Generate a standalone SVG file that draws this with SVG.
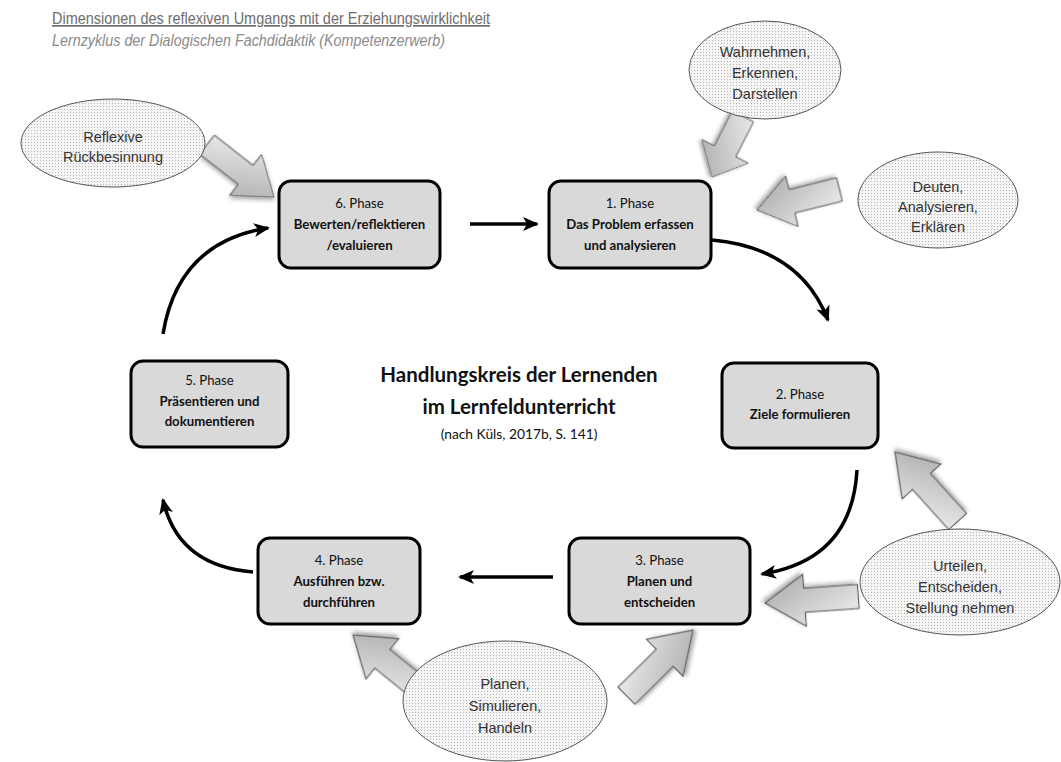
<svg xmlns="http://www.w3.org/2000/svg" width="1061" height="762" viewBox="0 0 1061 762">
<defs>
<pattern id="dots" width="3" height="3" patternUnits="userSpaceOnUse">
<rect width="3" height="3" fill="#f5f5f5"/>
<rect x="1" y="1" width="1" height="1" fill="#b4b4b4"/>
</pattern>
<linearGradient id="bg" x1="0" y1="0" x2="1" y2="1">
<stop offset="0" stop-color="#f2f2f2"/>
<stop offset="1" stop-color="#a6a6a6"/>
</linearGradient>
<filter id="sh" x="-30%" y="-30%" width="160%" height="160%">
<feDropShadow dx="2" dy="2" stdDeviation="2" flood-color="#000" flood-opacity="0.35"/>
</filter>
<marker id="ah" markerUnits="userSpaceOnUse" markerWidth="16" markerHeight="16" viewBox="0 0 16 16" refX="14" refY="8" orient="auto">
<path d="M0,1 L16,8 L0,15 L4,8 Z" fill="#000"/>
</marker>
<path id="barrow" d="M-85,-12 L-36,-12 L-36,-26 L0,0 L-36,26 L-36,12 L-85,12 Z"/>
</defs>
<style>
.box{fill:#d9d9d9;stroke:#000;stroke-width:3}
.bt{font-family:Lato,"Open Sans",sans-serif;font-size:13.2px;fill:#111;text-anchor:middle}
.b{font-weight:bold}
.ell{fill:url(#dots);stroke:#555;stroke-width:1}
.et{font-family:"Liberation Sans",Arial,sans-serif;font-size:14.5px;fill:#333;text-anchor:middle}
.conn{fill:none;stroke:#000;stroke-width:3.5}
.ba{fill:url(#bg);stroke:#555;stroke-width:1;filter:url(#sh)}
.ct{font-family:Lato,"Open Sans",sans-serif;text-anchor:middle;fill:#111}
</style>
<rect width="1061" height="762" fill="#fff"/>

<g id="title">
<text x="52" y="24" font-family="Liberation Sans, Arial, sans-serif" font-size="17" fill="#6e6e6e" text-decoration="underline" textLength="438" lengthAdjust="spacingAndGlyphs">Dimensionen des reflexiven Umgangs mit der Erziehungswirklichkeit</text>
<text x="52" y="46" font-family="Liberation Sans, Arial, sans-serif" font-size="16.5" font-style="italic" fill="#8a8a8a" textLength="393" lengthAdjust="spacingAndGlyphs">Lernzyklus der Dialogischen Fachdidaktik (Kompetenzerwerb)</text>
</g>

<g id="connectors">
<path class="conn" d="M470,224 L537,224" marker-end="url(#ah)"/>
<path class="conn" d="M712,240 Q800,248 828,320" marker-end="url(#ah)"/>
<path class="conn" d="M857,470 Q852,560 762,574" marker-end="url(#ah)"/>
<path class="conn" d="M553,577 L460,577" marker-end="url(#ah)"/>
<path class="conn" d="M253,572 Q178,566 163,500" marker-end="url(#ah)"/>
<path class="conn" d="M163,334 Q178,242 268,228" marker-end="url(#ah)"/>
</g>

<g id="blockarrows">
<use href="#barrow" class="ba" transform="translate(274,197) rotate(38)"/>
<use href="#barrow" class="ba" transform="translate(712,177) rotate(117) scale(0.8,1)"/>
<use href="#barrow" class="ba" transform="translate(757,210) rotate(166)"/>
<use href="#barrow" class="ba" transform="translate(895,452) rotate(-132) scale(1.1,1)"/>
<use href="#barrow" class="ba" transform="translate(765,603) rotate(176) scale(1.1,1)"/>
<use href="#barrow" class="ba" transform="translate(693,630) rotate(-44.6) scale(1.1,1)"/>
<use href="#barrow" class="ba" transform="translate(353,635) rotate(-141) scale(1.05,1)"/>
</g>

<g id="e-reflexive">
<ellipse class="ell" cx="113" cy="143" rx="92" ry="44"/>
<text class="et" x="113" y="142">Reflexive</text>
<text class="et" x="113" y="162">Rückbesinnung</text>
</g>
<g id="e-wahrnehmen">
<ellipse class="ell" cx="765" cy="70" rx="76" ry="49"/>
<text class="et" x="765" y="57">Wahrnehmen,</text>
<text class="et" x="765" y="78">Erkennen,</text>
<text class="et" x="765" y="99">Darstellen</text>
</g>
<g id="e-deuten">
<ellipse class="ell" cx="938" cy="200" rx="80" ry="48"/>
<text class="et" x="938" y="192">Deuten,</text>
<text class="et" x="938" y="212">Analysieren,</text>
<text class="et" x="938" y="232">Erklären</text>
</g>
<g id="e-urteilen">
<ellipse class="ell" cx="960" cy="582" rx="100" ry="53"/>
<text class="et" x="960" y="571">Urteilen,</text>
<text class="et" x="960" y="592">Entscheiden,</text>
<text class="et" x="960" y="613">Stellung nehmen</text>
</g>
<g id="e-planen">
<ellipse class="ell" cx="505" cy="701" rx="102" ry="60"/>
<text class="et" x="505" y="689">Planen,</text>
<text class="et" x="505" y="711">Simulieren,</text>
<text class="et" x="505" y="733">Handeln</text>
</g>

<g id="phase6">
<rect class="box" x="279" y="181" width="161" height="87" rx="12"/>
<text class="bt" x="359.5" y="208">6. Phase</text>
<text class="bt b" x="359.5" y="229">Bewerten/reflektieren</text>
<text class="bt b" x="359.5" y="250">/evaluieren</text>
</g>
<g id="phase1">
<rect class="box" x="549" y="181" width="162" height="87" rx="12"/>
<text class="bt" x="630" y="208">1. Phase</text>
<text class="bt b" x="630" y="229">Das Problem erfassen</text>
<text class="bt b" x="630" y="250">und analysieren</text>
</g>
<g id="phase2">
<rect class="box" x="722" y="363" width="156" height="85" rx="12"/>
<text class="bt" x="800" y="399">2. Phase</text>
<text class="bt b" x="800" y="419">Ziele formulieren</text>
</g>
<g id="phase3">
<rect class="box" x="569" y="538" width="181" height="86" rx="12"/>
<text class="bt" x="659.5" y="564.5">3. Phase</text>
<text class="bt b" x="659.5" y="585.5">Planen und</text>
<text class="bt b" x="659.5" y="606.5">entscheiden</text>
</g>
<g id="phase4">
<rect class="box" x="258" y="538" width="162" height="86" rx="12"/>
<text class="bt" x="339" y="564.5">4. Phase</text>
<text class="bt b" x="339" y="585.5">Ausführen bzw.</text>
<text class="bt b" x="339" y="606.5">durchführen</text>
</g>
<g id="phase5">
<rect class="box" x="131" y="361" width="157" height="86" rx="12"/>
<text class="bt" x="209.5" y="384.5">5. Phase</text>
<text class="bt b" x="209.5" y="405.5">Präsentieren und</text>
<text class="bt b" x="209.5" y="425.5">dokumentieren</text>
</g>

<g id="center">
<text class="ct" x="519" y="382" font-size="20.5" font-weight="bold">Handlungskreis der Lernenden</text>
<text class="ct" x="519" y="414" font-size="20.5" font-weight="bold">im Lernfeldunterricht</text>
<text class="ct" x="519" y="439" font-size="13.8">(nach Küls, 2017b, S. 141)</text>
</g>
</svg>
